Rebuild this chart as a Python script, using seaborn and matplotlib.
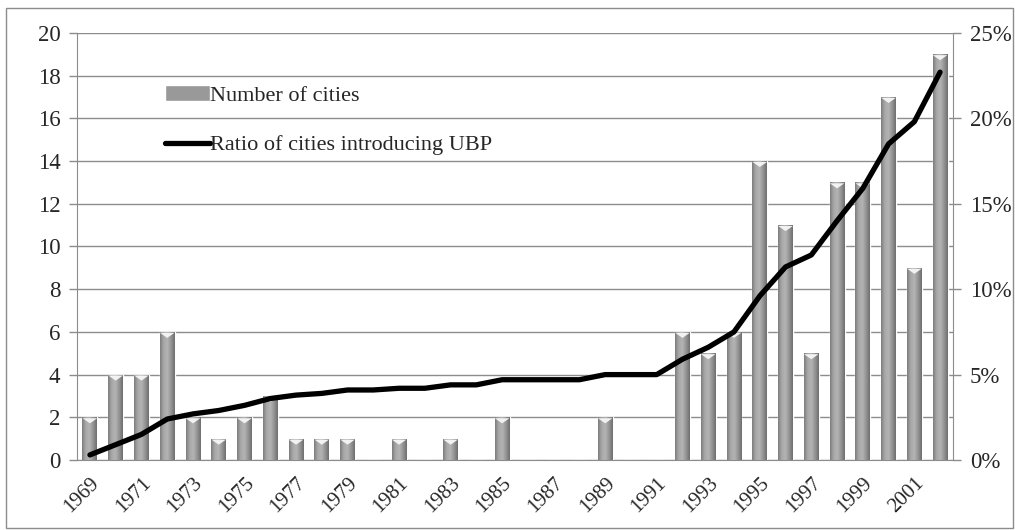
import matplotlib
matplotlib.use("Agg")
import matplotlib.pyplot as plt
import matplotlib.ticker as mticker
import matplotlib.transforms as mtrans
from matplotlib.colors import LinearSegmentedColormap
import numpy as np
import pandas as pd
import seaborn as sns

years = list(range(1969, 2003))
cities = [2, 4, 4, 6, 2, 1, 2, 3, 1, 1, 1, 0, 1, 0, 1, 0, 2, 0, 0, 0, 2, 0, 0,
          6, 5, 6, 14, 11, 5, 13, 13, 17, 9, 19]
ratio = [0.3, 0.9, 1.5, 2.4, 2.7, 2.9, 3.2, 3.6, 3.8, 3.9, 4.1, 4.1, 4.2, 4.2,
         4.4, 4.4, 4.7, 4.7, 4.7, 4.7, 5.0, 5.0, 5.0, 5.9, 6.6, 7.5, 9.6, 11.3,
         12.0, 14.0, 15.9, 18.5, 19.8, 22.7]

df = pd.DataFrame({"year": [str(y) for y in years], "cities": cities, "ratio": ratio})

sns.set_style("white")
plt.rcParams["font.family"] = ["Liberation Serif", "DejaVu Serif"]
plt.rcParams["font.size"] = 16

grid_c = "#8c8c8c"
fig = plt.figure(figsize=(10.15, 5.3), dpi=100)
ax = fig.add_axes([0.0759, 0.132, 0.863, 0.806])

sns.barplot(data=df, x="year", y="cities", color="#999999", width=0.58,
            saturation=1, ax=ax, label="Number of cities", zorder=3)
if ax.get_legend() is not None:
    ax.get_legend().remove()

# cylinder-like shading on the bars
cmap = LinearSegmentedColormap.from_list(
    "cyl", ["#7d7d7d", "#a9a9a9", "#b3b3b3", "#949494", "#6e6e6e"])
grad = np.linspace(0, 1, 64).reshape(1, -1)
for p in ax.patches:
    x0, y0 = p.get_x(), p.get_y()
    w, h = p.get_width(), p.get_height()
    if h <= 0:
        continue
    im = ax.imshow(grad, cmap=cmap, aspect="auto", extent=(x0, x0 + w, y0, y0 + h),
                   zorder=3.1)
    im.set_clip_path(p)

# flat light caps on top of the bars
nz = [i for i, c in enumerate(cities) if c > 0]
cap = [(-1, 0.35), (1, 0.35), (0, -0.35), (-1, 0.35)]
cap_tr = mtrans.offset_copy(ax.transData, fig=fig, x=0, y=-2.5, units="points")
ax.scatter(nz, [cities[i] for i in nz], marker=cap, s=110, color="#f2f2f2",
           edgecolor="none", zorder=3.2, transform=cap_tr)

ax.set_xlim(-0.5, len(years) - 0.5)
ax.set_ylim(0, 20)
ax.set_yticks(range(0, 21, 2))
ax.grid(axis="y", color=grid_c, lw=1, zorder=0)
ax.set_xlabel("")
ax.set_ylabel("")

ax.set_xticks(range(0, len(years), 2))
ax.set_xticklabels([str(y) for y in years[::2]], rotation=45, ha="right",
                   rotation_mode="anchor", fontsize=15)
ax.set_xticks(np.arange(-0.5, len(years), 1), minor=True)
ax.tick_params(axis="x", which="major", length=0, pad=10)
ax.tick_params(axis="x", which="minor", length=6, color=grid_c, width=1)
ax.tick_params(axis="y", length=6, color=grid_c, width=1, direction="out", pad=6,
               labelsize=16.5)

for s in ["left", "bottom"]:
    ax.spines[s].set_color(grid_c)
ax.spines["top"].set_visible(False)
ax.spines["right"].set_visible(False)

ax2 = ax.twinx()
ax2.set_position(ax.get_position())
sns.lineplot(x=np.arange(len(years)), y=ratio, color="black", lw=3.8, ax=ax2,
             label="Ratio of cities introducing UBP", legend=False,
             solid_capstyle="round", solid_joinstyle="round")
ax2.set_ylim(0, 25)
ax2.set_yticks(range(0, 26, 5))
ax2.yaxis.set_major_formatter(mticker.FuncFormatter(lambda v, _: f"{v:.0f}%"))
ax2.tick_params(axis="y", length=6, color=grid_c, width=1, direction="out", pad=6,
                labelsize=16.5)
ax2.grid(False)
for s in ["top", "left", "bottom"]:
    ax2.spines[s].set_visible(False)
ax2.spines["right"].set_color(grid_c)
ax2.set_ylabel("")

h1, l1 = ax.get_legend_handles_labels()
h2, l2 = ax2.get_legend_handles_labels()
ax2.legend(h1 + h2, l1 + l2, loc="upper left", bbox_to_anchor=(0.1, 0.878),
           frameon=False, handlelength=2.05, handletextpad=0.0, labelspacing=1.32,
           fontsize=16, borderaxespad=0, borderpad=0)

fig.add_artist(plt.Rectangle((0.006, 0.004), 0.992, 0.98, transform=fig.transFigure,
                             fill=False, edgecolor=grid_c, lw=1))

fig.savefig("out.png", dpi=100)
